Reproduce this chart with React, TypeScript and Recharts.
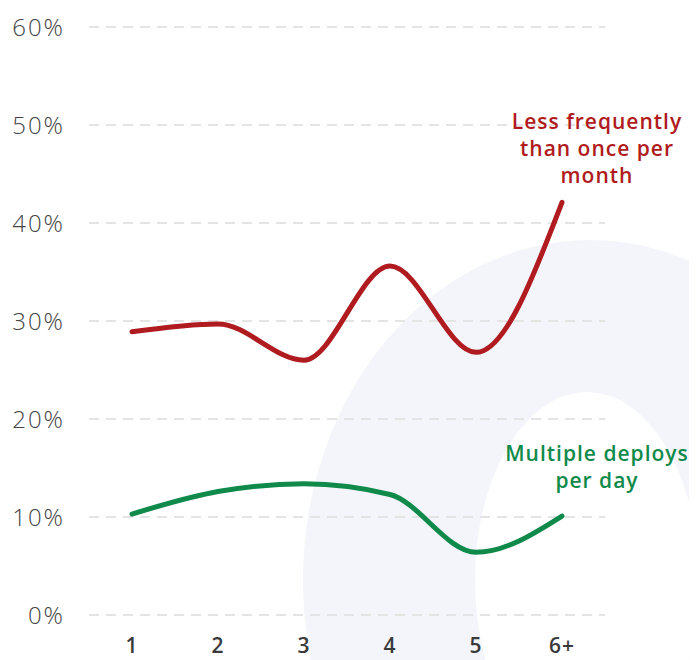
import { LineChart, Line, XAxis, YAxis, CartesianGrid } from "recharts";

const categories = ["1", "2", "3", "4", "5", "6+"];
const lessThanMonthly = [28.9, 29.7, 26.0, 35.6, 26.8, 42.1];
const multiplePerDay = [10.3, 12.6, 13.4, 12.3, 6.4, 10.1];
const yTicks = [0, 10, 20, 30, 40, 50, 60];

const RED = "#b01b20";
const GREEN = "#0f8a4b";
const FONT = "'Open Sans', 'Noto Sans', sans-serif";

const data = categories.map((c, i) => ({
  name: c,
  monthly: lessThanMonthly[i],
  daily: multiplePerDay[i],
}));

const lastIndex = categories.length - 1;

// end-of-line callout, only for the last point
function endLabel(lines: string[], color: string, dx: number, bottomDy: number) {
  return (props: any) => {
    const { x, y, index } = props;
    if (index !== lastIndex) return null;
    const lh = 27;
    const top = y + bottomDy - lh * (lines.length - 1);
    return (
      <text
        x={x + dx}
        y={top}
        fill={color}
        fontFamily={FONT}
        fontSize={21}
        fontWeight={600}
        letterSpacing={1}
        textAnchor="middle"
        dominantBaseline="central"
      >
        {lines.map((l, i) => (
          <tspan key={i} x={x + dx} y={top + i * lh}>
            {l}
          </tspan>
        ))}
      </text>
    );
  };
}

export default function App() {
  return (
    <div style={{ position: "relative", width: 689, height: 652 }}>
      {/* big pale "O" shape in the background */}
      <svg
        width={689}
        height={652}
        style={{ position: "absolute", left: 0, top: 0 }}
      >
        <ellipse cx={582} cy={572} rx={287} ry={340} fill="#f4f5fb" />
        <ellipse cx={579} cy={572} rx={112} ry={188} fill="#ffffff" />
      </svg>
      <div style={{ position: "absolute", left: 0, top: 0 }}>
        <LineChart
          width={689}
          height={652}
          data={data}
          margin={{ top: 19, right: 92, left: 0, bottom: 0 }}
        >
          <CartesianGrid
            vertical={false}
            stroke="#e4e4e4"
            strokeWidth={2}
            strokeDasharray="10 7"
          />
          <XAxis
            dataKey="name"
            axisLine={false}
            tickLine={false}
            tickSize={0}
            tickMargin={23}
            height={45}
            padding={{ left: 43, right: 43 }}
            tick={{ fill: "#3a3a3a", fontSize: 21, fontWeight: 600, fontFamily: FONT, letterSpacing: 1 }}
          />
          <YAxis
            domain={[0, 60]}
            ticks={yTicks}
            width={81}
            axisLine={false}
            tickLine={false}
            tickSize={0}
            tickMargin={24}
            tickFormatter={(v) => `${v}%`}
            tick={{ fill: "#444444", fontSize: 24, fontWeight: 300, fontFamily: FONT, letterSpacing: 2 }}
          />
          <Line
            type="monotone"
            dataKey="monthly"
            stroke={RED}
            strokeWidth={5}
            strokeLinecap="round"
            dot={false}
            isAnimationActive={false}
            label={endLabel(["Less frequently", "than once per", "month"], RED, 35, -27)}
          />
          <Line
            type="monotone"
            dataKey="daily"
            stroke={GREEN}
            strokeWidth={5}
            strokeLinecap="round"
            dot={false}
            isAnimationActive={false}
            label={endLabel(["Multiple deploys", "per day"], GREEN, 35, -36)}
          />
        </LineChart>
      </div>
    </div>
  );
}
